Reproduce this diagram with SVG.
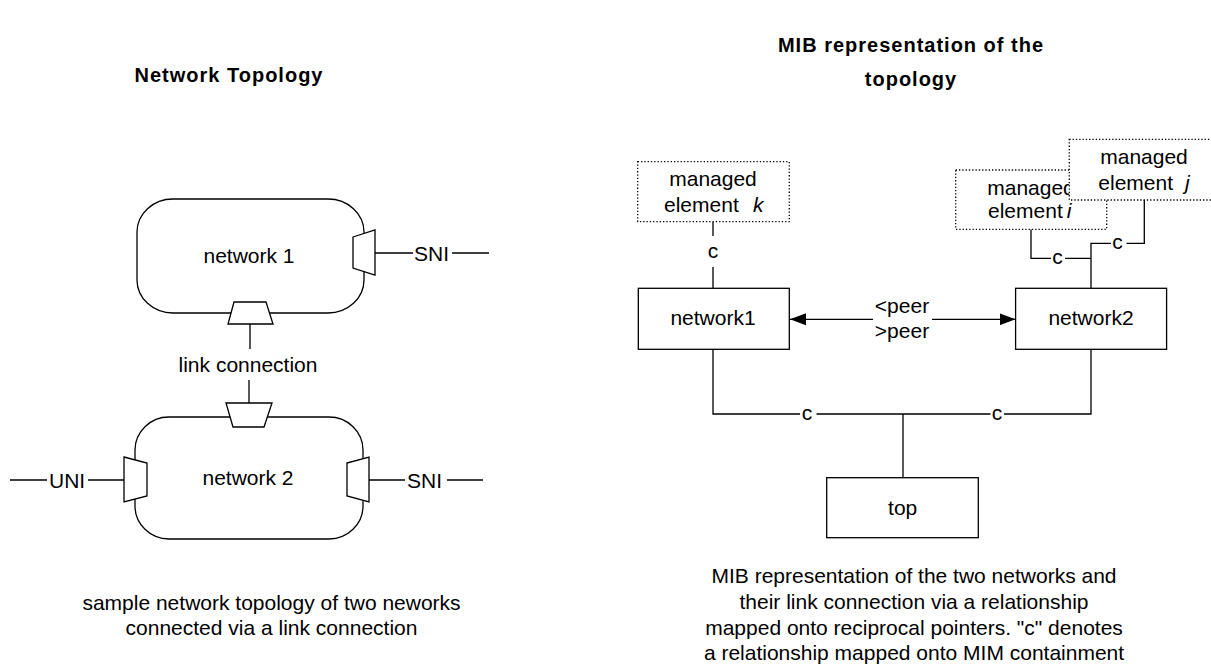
<svg xmlns="http://www.w3.org/2000/svg" width="1211" height="664" viewBox="0 0 1211 664">
<style>
text{font-family:"Liberation Sans",Arial,sans-serif;font-size:21px;fill:#000}
.title{font-weight:bold;font-size:20px;letter-spacing:1px}
.ln{stroke:#000;stroke-width:1.3;fill:none}
.shape{stroke:#000;stroke-width:1.3;fill:#fff}
.dot{stroke:#000;stroke-width:1.3;fill:#fff;stroke-dasharray:1.3 2}
.mid{text-anchor:middle}
.it{font-style:italic}
</style>
<defs>
<marker id="ah" viewBox="0 0 16 12" refX="16" refY="6" markerWidth="16" markerHeight="12" markerUnits="userSpaceOnUse" orient="auto-start-reverse">
<path d="M0,0 L16,6 L0,12 z" fill="#000"/>
</marker>
</defs>
<g id="titles">
<text class="title mid" x="229" y="82">Network Topology</text>
<text class="title mid" x="911" y="52">MIB representation of the</text>
<text class="title mid" x="911" y="86">topology</text>
</g>
<g id="network-1">
<rect class="shape" x="137" y="199" width="227" height="114" rx="36" ry="33"/>
<text class="mid" x="249" y="263">network 1</text>
<polygon class="shape" points="353,237 375,230 375,275 353,268"/>
<polygon class="shape" points="234,302 266,302 273,324 228,324"/>
</g>
<g id="network-2">
<rect class="shape" x="135" y="417" width="228" height="122" rx="34" ry="33"/>
<text class="mid" x="248" y="485">network 2</text>
<polygon class="shape" points="226,403 272,403 264,427 233,427"/>
<polygon class="shape" points="124,457 147,463 147,496 124,502"/>
<polygon class="shape" points="347,463 369,457 369,502 347,496"/>
</g>
<g id="left-connectors">
<path class="ln" d="M375,253 H413 M452,253 H489"/>
<text x="414" y="260.5">SNI</text>
<path class="ln" d="M250,324 V349 M249,380 V403"/>
<text class="mid" x="248" y="372">link connection</text>
<path class="ln" d="M10,480 H47 M88,480 H124"/>
<text x="49" y="487.5">UNI</text>
<path class="ln" d="M369,480 H405 M447,480 H483"/>
<text x="407" y="487.5">SNI</text>
</g>
<g id="left-caption">
<text class="mid" x="271.5" y="610">sample network topology of two neworks</text>
<text class="mid" x="271.5" y="635">connected via a link connection</text>
</g>
<g id="connectors">
<path class="ln" d="M713,222 V236 M713,267 V288"/>
<text class="mid" x="713" y="258">c</text>
<path class="ln" d="M873,319.3 H790" marker-end="url(#ah)"/>
<path class="ln" d="M932,319.3 H1015.5" marker-end="url(#ah)"/>
<text class="mid" x="902" y="313">&lt;peer</text>
<text class="mid" x="902" y="338">&gt;peer</text>
<path class="ln" d="M713,349.5 V414 H800 M816.5,414 H990.5 M1004,414 H1091 V349.5"/>
<text class="mid" x="807" y="419.5">c</text>
<text class="mid" x="997" y="419.5">c</text>
<path class="ln" d="M903,414 V477.7"/>
<path class="ln" d="M1031,229.3 V258.3 H1051 M1065,258.3 H1091"/>
<text class="mid" x="1057.5" y="264">c</text>
<path class="ln" d="M1091,288 V243.3 H1111 M1126.5,243.3 H1144.3 V200"/>
<text class="mid" x="1117.5" y="249">c</text>
</g>
<g id="managed-element-k">
<rect class="dot" x="637.7" y="161.7" width="151.6" height="60"/>
<text class="mid" x="713" y="186">managed</text>
<text x="664" y="211.7">element</text>
<text class="it" x="753" y="211.7">k</text>
</g>
<g id="network1">
<rect class="shape" x="638.3" y="288.3" width="151" height="61"/>
<text class="mid" x="713" y="325">network1</text>
</g>
<g id="network2">
<rect class="shape" x="1015.6" y="288.3" width="151" height="61"/>
<text class="mid" x="1091" y="325">network2</text>
</g>
<g id="managed-element-i">
<rect class="dot" x="955.7" y="170" width="151" height="59.3"/>
<text class="mid" x="1031" y="195">managed</text>
<text x="988" y="218.3">element</text>
<text class="it" x="1066.7" y="218.3">i</text>
</g>
<g id="managed-element-j">
<rect class="dot" x="1069.3" y="139.3" width="151" height="60.7"/>
<text class="mid" x="1144" y="164">managed</text>
<text x="1098.3" y="190">element</text>
<text class="it" x="1185" y="190">j</text>
</g>
<g id="top">
<rect class="shape" x="826.7" y="477.7" width="151.6" height="60"/>
<text class="mid" x="902.7" y="515">top</text>
</g>
<g id="right-caption">
<text class="mid" x="914" y="583.3">MIB representation of the two networks and</text>
<text class="mid" x="914" y="609">their link connection via a relationship</text>
<text class="mid" x="914" y="634.5">mapped onto reciprocal pointers. "c" denotes</text>
<text class="mid" x="914" y="660">a relationship mapped onto MIM containment</text>
</g>
</svg>
